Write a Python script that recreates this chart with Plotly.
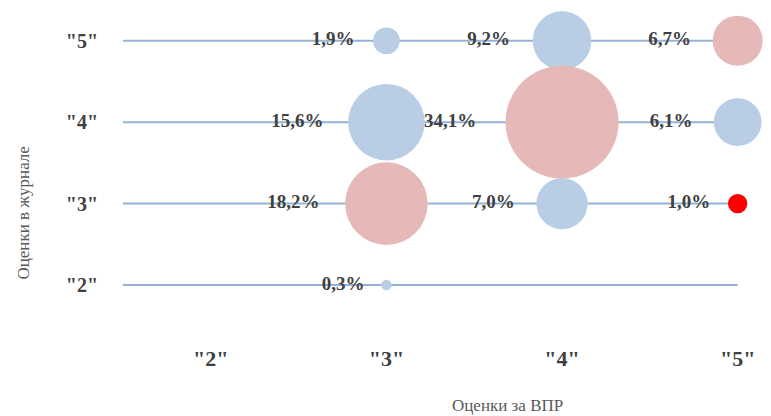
import plotly.graph_objects as go

# Grades
grade_levels = [2, 3, 4, 5]
grade_labels = ['"2"', '"3"', '"4"', '"5"']

# Data points: VPR grade (x), journal grade (y), share (%)
vpr_grade = [3, 4, 5, 3, 4, 5, 3, 4, 5, 3]
journal_grade = [5, 5, 5, 4, 4, 4, 3, 3, 3, 2]
share_pct = [1.9, 9.2, 6.7, 15.6, 34.1, 6.1, 18.2, 7.0, 1.0, 0.3]

BLUE = "#B9CDE5"
PINK = "#E6B9B8"
RED = "#FF0000"
LINE = "#95B3D7"
SERIF = "Liberation Serif, Times New Roman, serif"

def color_for(v, j):
    if v == j:
        return PINK
    if v - j >= 2:
        return RED
    return BLUE

colors = [color_for(v, j) for v, j in zip(vpr_grade, journal_grade)]
labels = [f"{p:.1f}".replace(".", ",") + "%" + "\u00a0" * 3 for p in share_pct]

max_d = 113
sizeref = 2.0 * max(share_pct) / (max_d ** 2)

fig = go.Figure()

# horizontal guide lines
for lvl in grade_levels:
    fig.add_shape(type="line", xref="x", yref="y", x0=1.5, x1=5, y0=lvl, y1=lvl,
                  line=dict(color=LINE, width=2), layer="below")

fig.add_trace(go.Scatter(
    x=vpr_grade, y=journal_grade, mode="markers+text",
    text=labels, textposition="middle left",
    textfont=dict(family=SERIF, size=19, color="#404040", weight="bold"),
    marker=dict(size=share_pct, sizemode="area", sizeref=sizeref, sizemin=2,
                color=colors, opacity=1, line=dict(width=0)),
    cliponaxis=False, hoverinfo="skip", showlegend=False,
))

fig.update_xaxes(range=[1.5, 5.15], tickvals=grade_levels, ticktext=grade_labels,
                 showgrid=False, zeroline=False, showline=False,
                 tickfont=dict(family=SERIF, size=22, color="#404040", weight="bold"),
                 ticks="outside", ticklen=1, tickcolor="rgba(0,0,0,0)")
fig.update_yaxes(range=[1.35, 5.5], tickvals=grade_levels, ticktext=grade_labels,
                 showgrid=False, zeroline=False, showline=False,
                 tickfont=dict(family=SERIF, size=20, color="#404040", weight="bold"),
                 ticks="outside", ticklen=20, tickcolor="rgba(0,0,0,0)")

fig.add_annotation(text="Оценки за ВПР", xref="paper", yref="paper", x=0.6, y=-0.2,
                   xanchor="center", yanchor="middle", showarrow=False,
                   font=dict(family=SERIF, size=17, color="#595959"))
fig.add_annotation(text="Оценки в журнале", xref="paper", yref="paper", x=-0.155, y=0.37,
                   xanchor="center", yanchor="middle", showarrow=False, textangle=-90,
                   font=dict(family=SERIF, size=17, color="#595959"))

fig.update_layout(width=771, height=416, margin=dict(l=123, r=7, t=0, b=78),
                  paper_bgcolor="white", plot_bgcolor="white")

fig.write_html("out.html", config={"displayModeBar": False},
               post_script="document.body.style.margin='0';document.body.style.padding='0';")
